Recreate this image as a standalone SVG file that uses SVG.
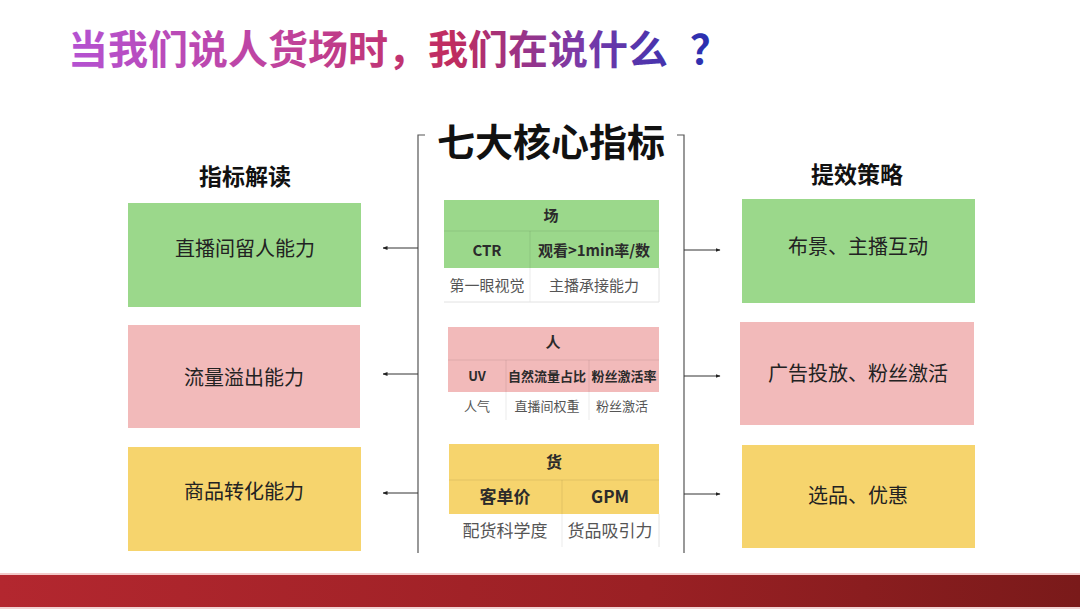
<svg xmlns="http://www.w3.org/2000/svg" width="1080" height="609" viewBox="0 0 1080 609">
<defs>
<linearGradient id="tg" x1="68" y1="0" x2="708" y2="0" gradientUnits="userSpaceOnUse">
<stop offset="0" stop-color="#b452d2"/>
<stop offset="0.35" stop-color="#c0429a"/>
<stop offset="0.6" stop-color="#c02c5e"/>
<stop offset="0.8" stop-color="#7a3aa8"/>
<stop offset="1" stop-color="#2a2fb0"/>
</linearGradient>
<linearGradient id="bar" x1="0" y1="0" x2="1" y2="0">
<stop offset="0" stop-color="#b3272f"/>
<stop offset="0.6" stop-color="#9a2024"/>
<stop offset="1" stop-color="#7a1a1a"/>
</linearGradient>
<marker id="ah" viewBox="0 0 10 10" refX="9" refY="5" markerWidth="5" markerHeight="5" orient="auto-start-reverse">
<path d="M0,1 L10,5 L0,9 z" fill="#222"/>
</marker>
</defs>
<style>
.cn{font-family:"Noto Sans CJK SC","Noto Sans",sans-serif;}
.box{stroke:none;}
.g{fill:#9bd88b;}
.p{fill:#f2baba;}
.y{fill:#f6d46d;}
.bt{font-size:20px;fill:#222;text-anchor:middle;}
.hd{font-size:23px;font-weight:700;fill:#111;text-anchor:middle;}
.th{font-weight:700;fill:#2b2b2b;text-anchor:middle;}
.td{fill:#555;text-anchor:middle;}
.grid{stroke:#e2e2e2;stroke-width:1;fill:none;}
.gridc{stroke:rgba(0,0,0,0.08);stroke-width:1;}
.conn{stroke:#333;stroke-width:1;fill:none;}
.brk{stroke:#555;stroke-width:1.2;fill:none;}
</style>
<rect width="1080" height="609" fill="#ffffff"/>

<text x="68" y="64" class="cn" font-size="40" font-weight="700" fill="url(#tg)">当我们说人货场时，我们在说什么<tspan x="690">？</tspan></text>

<g id="bracket">
<path class="brk" d="M425,135 L418,135 L418,553"/>
<path class="brk" d="M677,135 L684,135 L684,553"/>
<text x="551" y="156" class="cn" font-size="38" font-weight="700" fill="#111" text-anchor="middle">七大核心指标</text>
</g>

<g id="header-left"><text x="245" y="185" class="cn hd">指标解读</text></g>
<g id="header-right"><text x="857" y="183" class="cn hd">提效策略</text></g>

<g id="left-green"><rect class="box g" x="128" y="203" width="233" height="104"/><text x="245" y="256" class="cn bt">直播间留人能力</text></g>
<g id="left-pink"><rect class="box p" x="128" y="325" width="232" height="103"/><text x="244" y="385" class="cn bt">流量溢出能力</text></g>
<g id="left-yellow"><rect class="box y" x="128" y="447" width="233" height="104"/><text x="244" y="499" class="cn bt">商品转化能力</text></g>

<g id="right-green"><rect class="box g" x="742" y="199" width="233" height="104"/><text x="858" y="254" class="cn bt">布景、主播互动</text></g>
<g id="right-pink"><rect class="box p" x="740" y="322" width="234" height="103"/><text x="858" y="381" class="cn bt">广告投放、粉丝激活</text></g>
<g id="right-yellow"><rect class="box y" x="742" y="445" width="233" height="103"/><text x="858" y="503" class="cn bt">选品、优惠</text></g>

<g id="table-chang">
<rect class="g" x="444" y="200" width="215" height="68"/>
<line class="gridc" x1="444" y1="231" x2="659" y2="231"/>
<line class="gridc" x1="530" y1="231" x2="530" y2="302"/>
<line class="grid" x1="444" y1="302" x2="659" y2="302"/>
<line class="grid" x1="659" y1="268" x2="659" y2="302"/>
<text x="551" y="221" class="cn th" font-size="15">场</text>
<text x="487" y="256" class="cn th" font-size="15">CTR</text>
<text x="594" y="256" class="cn th" font-size="15">观看&gt;1min率/数</text>
<text x="487" y="291" class="cn td" font-size="15">第一眼视觉</text>
<text x="594" y="291" class="cn td" font-size="15">主播承接能力</text>
</g>

<g id="table-ren">
<rect class="p" x="448" y="327" width="211" height="65"/>
<line class="gridc" x1="448" y1="360" x2="659" y2="360"/>
<line class="gridc" x1="506" y1="360" x2="506" y2="420"/>
<line class="gridc" x1="589" y1="360" x2="589" y2="420"/>
<text x="553" y="348" class="cn th" font-size="15">人</text>
<text x="477" y="381" class="cn th" font-size="13">UV</text>
<text x="547" y="381" class="cn th" font-size="13">自然流量占比</text>
<text x="624" y="381" class="cn th" font-size="13">粉丝激活率</text>
<text x="477" y="411" class="cn td" font-size="13">人气</text>
<text x="547" y="411" class="cn td" font-size="13">直播间权重</text>
<text x="622" y="411" class="cn td" font-size="13">粉丝激活</text>
</g>

<g id="table-huo">
<rect class="y" x="449" y="444" width="210" height="70"/>
<line class="gridc" x1="449" y1="480" x2="659" y2="480"/>
<line class="gridc" x1="562" y1="480" x2="562" y2="547"/>
<line class="grid" x1="659" y1="514" x2="659" y2="547"/>
<text x="554" y="468" class="cn th" font-size="16">货</text>
<text x="505" y="503" class="cn th" font-size="17">客单价</text>
<text x="610" y="503" class="cn th" font-size="17">GPM</text>
<text x="505" y="537" class="cn td" font-size="17">配货科学度</text>
<text x="610" y="537" class="cn td" font-size="17">货品吸引力</text>
</g>

<g id="connectors">
<line class="conn" x1="418" y1="248" x2="383" y2="248" marker-end="url(#ah)"/>
<line class="conn" x1="418" y1="374" x2="383" y2="374" marker-end="url(#ah)"/>
<line class="conn" x1="418" y1="493" x2="383" y2="493" marker-end="url(#ah)"/>
<line class="conn" x1="684" y1="250" x2="720" y2="250" marker-end="url(#ah)"/>
<line class="conn" x1="684" y1="376" x2="720" y2="376" marker-end="url(#ah)"/>
<line class="conn" x1="684" y1="494" x2="720" y2="494" marker-end="url(#ah)"/>
</g>

<rect x="0" y="573" width="1080" height="2" fill="#f3c9c9"/>
<rect x="0" y="575" width="1080" height="32" fill="url(#bar)"/>
<rect x="0" y="607" width="1080" height="2" fill="#f1d2d2"/>
</svg>
